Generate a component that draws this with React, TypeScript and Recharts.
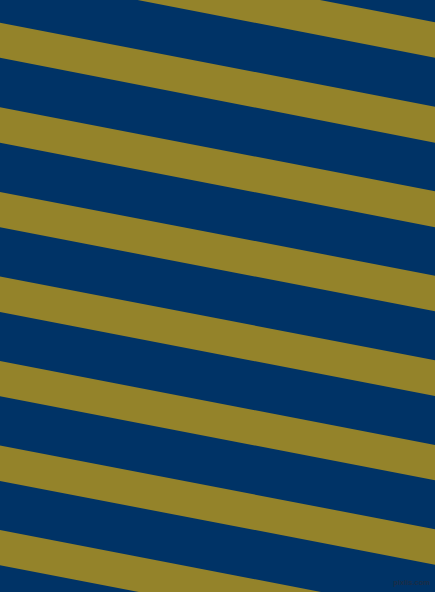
import { ComposedChart, Area, XAxis, YAxis } from "recharts"

// x positions at which each stripe edge is sampled (left and right image edge)
const edgeX = [0, 435]

// olive stripe edges (pixels from top)
const topLeft = [-62, 22.7, 107.3, 192, 276.5, 361, 445.5, 530]
const bottomLeft = [-26.7, 57.7, 142.7, 227.3, 312, 396.3, 481, 565.3]
const topRight = [22.3, 106.7, 191.3, 275.7, 360.3, 445, 529.3, 614]
const bottomRight = [57.7, 142.7, 227.3, 311.3, 396, 480.3, 564.7, 649]

const NAVY = "#003366"
const OLIVE = "#94832a"

const chartData = edgeX.map((x, i) => {
  const row: Record<string, number | number[]> = { x }
  topLeft.forEach((_, s) => {
    row[`s${s}`] = i === 0 ? [topLeft[s], bottomLeft[s]] : [topRight[s], bottomRight[s]]
  })
  return row
})

export default function App() {
  return (
    <div
      style={{
        position: "absolute",
        left: 0,
        top: 0,
        width: 435,
        height: 592,
        background: NAVY,
        overflow: "hidden",
      }}
    >
      <ComposedChart
        width={435}
        height={592}
        data={chartData}
        margin={{ top: 0, right: 0, bottom: 0, left: 0 }}
      >
        <XAxis dataKey="x" type="number" domain={[0, 435]} hide allowDataOverflow />
        <YAxis type="number" domain={[0, 592]} reversed hide allowDataOverflow />
        {topLeft.map((_, s) => (
          <Area
            key={s}
            type="linear"
            dataKey={`s${s}`}
            stroke="none"
            fill={OLIVE}
            fillOpacity={1}
            dot={false}
            activeDot={false}
            isAnimationActive={false}
          />
        ))}
      </ComposedChart>
      <div
        style={{
          position: "absolute",
          right: 5,
          top: 578,
          fontFamily: "Liberation Sans",
          fontSize: 7.5,
          fontWeight: "bold",
          color: "#1c2d45",
          lineHeight: "9px",
          whiteSpace: "nowrap",
        }}
      >
        pixlis.com
      </div>
    </div>
  )
}
